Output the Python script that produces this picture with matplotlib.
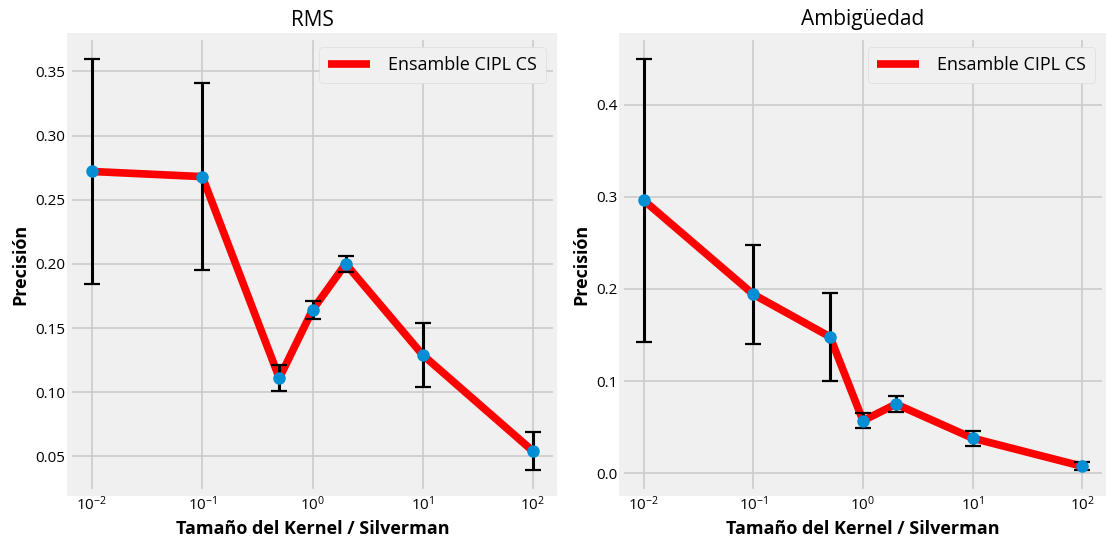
import matplotlib
matplotlib.use('Agg')
import matplotlib.pyplot as plt
from matplotlib.patches import Rectangle

# Tamaños de kernel (relativos a Silverman)
kernel_sizes = [0.01, 0.1, 0.5, 1, 2, 10, 100]

# RMS: media y desviación
rms_mean = [0.272, 0.268, 0.111, 0.164, 0.200, 0.129, 0.054]
rms_std = [0.088, 0.073, 0.010, 0.007, 0.006, 0.025, 0.015]

# Ambigüedad: media y desviación
amb_mean = [0.296, 0.194, 0.148, 0.057, 0.075, 0.038, 0.0075]
amb_std = [0.154, 0.054, 0.048, 0.008, 0.009, 0.008, 0.0045]

plt.style.use('fivethirtyeight')
plt.rcParams['font.family'] = ['Open Sans', 'DejaVu Sans']

fig = plt.figure(figsize=(11.06, 5.44), dpi=100, facecolor='white')

W, H = 1106, 544
positions = [(70, 38, 485, 453), (622, 38, 482, 453)]
panels = [
    ('RMS', rms_mean, rms_std),
    ('Ambigüedad', amb_mean, amb_std),
]

for (px, py, pw, ph), (title, mean, std) in zip(positions, panels):
    # fondo gris ligeramente más grande que los ejes
    fig.patches.append(Rectangle(((px - 3) / W, (H - py - ph - 5) / H), (pw + 5) / W, (ph + 10) / H,
                                 transform=fig.transFigure, facecolor='#f0f0f0',
                                 edgecolor='none', zorder=-1))
    ax = fig.add_axes([px / W, (H - py - ph) / H, pw / W, ph / H])
    ax.set_facecolor('#f0f0f0')
    ax.plot(kernel_sizes, mean, color='red', lw=5.5, label='Ensamble CIPL CS', zorder=2)
    ax.errorbar(kernel_sizes, mean, yerr=std, fmt='o', color='#008fd5', ms=8,
                ecolor='black', elinewidth=2.2, capsize=6, capthick=1.6, zorder=3)
    ax.set_xscale('log')
    ax.set_title(title, fontsize=15, pad=9)
    ax.set_xlabel('Tamaño del Kernel / Silverman', fontsize=13, fontweight='bold', labelpad=4)
    ax.set_ylabel('Precisión', fontsize=13, fontweight='bold')
    ax.tick_params(axis='both', labelsize=11)
    ax.grid(True, color='#cbcbcb', lw=1.2)
    ax.legend(loc='upper right', fontsize=13, facecolor='#f0f0f0', framealpha=1,
              edgecolor='#dddddd', fancybox=True, borderpad=0.5, handlelength=2.3,
              handletextpad=1.0)

fig.savefig('out.png', dpi=100, facecolor='white')
